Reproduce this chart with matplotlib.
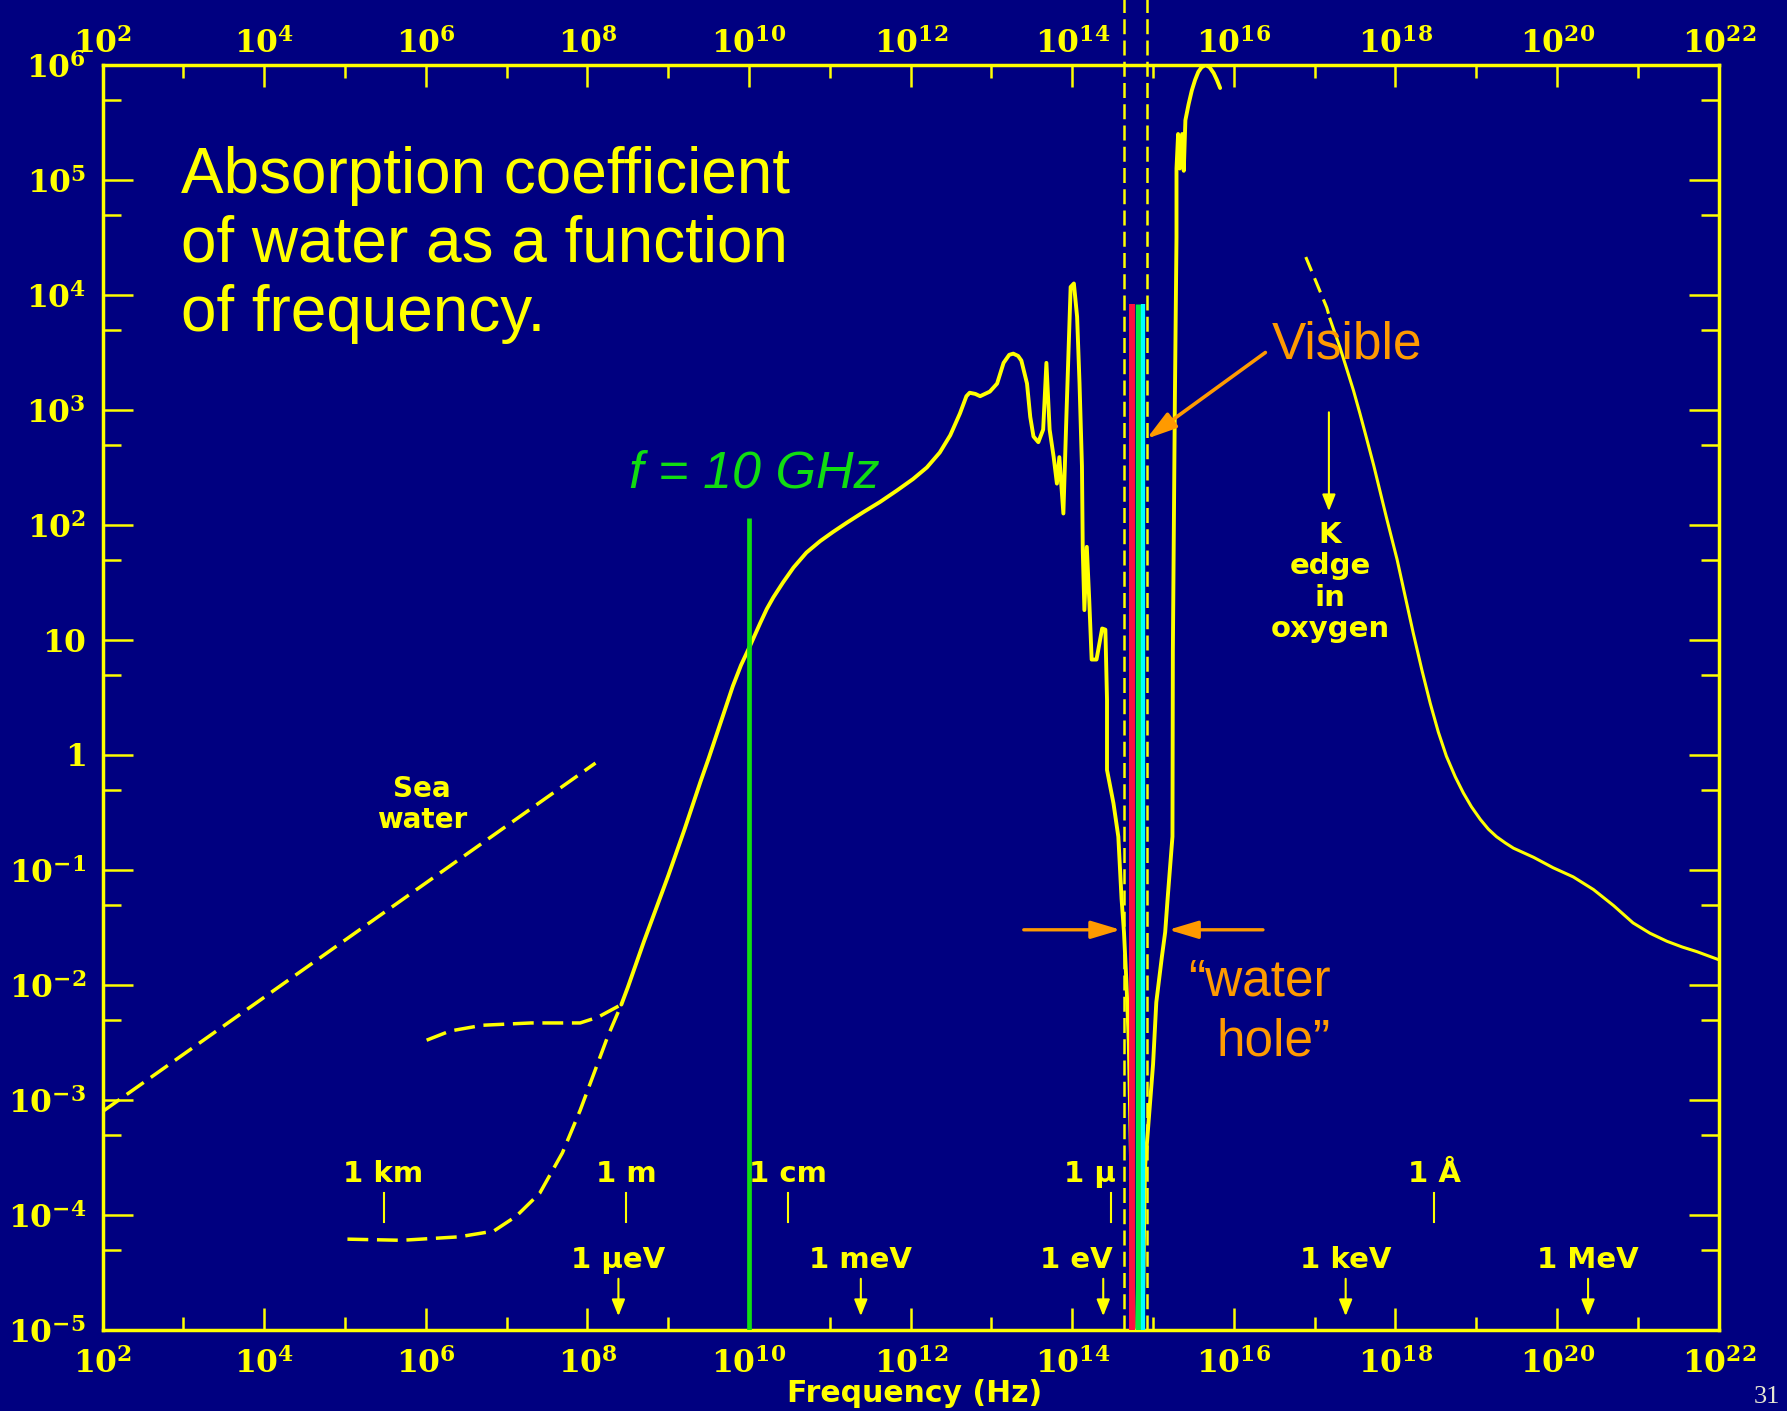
import numpy as np
import matplotlib.pyplot as plt
from matplotlib.ticker import NullFormatter, NullLocator

plt.rcParams['mathtext.fontset'] = 'dejavuserif'

navy = '#000080'
yellow = '#ffff00'
green = '#11dd11'
orange = '#ff9a00'

# ---- data (log10 of frequency in Hz, log10 of absorption in 1/cm) ----
water_logf = [8.42, 8.50, 8.60, 8.70, 8.80, 8.90, 9.00, 9.10, 9.20, 9.30, 9.40,
              9.50, 9.60, 9.70, 9.80, 9.90, 10.00, 10.07, 10.14, 10.22, 10.30,
              10.42, 10.55, 10.71, 10.88, 11.04, 11.21, 11.41, 11.62, 11.83, 12.03,
              12.20, 12.36, 12.49, 12.61, 12.69, 12.73, 12.80, 12.86, 12.98, 13.07,
              13.15, 13.22, 13.27, 13.33, 13.37, 13.44, 13.48, 13.52, 13.58, 13.64,
              13.68, 13.72, 13.77, 13.81, 13.84, 13.89, 13.93, 13.98, 14.02, 14.06,
              14.09, 14.12, 14.13, 14.15, 14.18, 14.21, 14.24, 14.30, 14.37, 14.41,
              14.43, 14.43, 14.51, 14.57, 14.61, 14.64, 14.67, 14.70, 14.74, 14.77,
              14.86, 14.90, 14.94, 15.00, 15.04, 15.11, 15.15, 15.18, 15.24, 15.245,
              15.27, 15.29, 15.29, 15.31, 15.33, 15.36, 15.38, 15.40, 15.44, 15.48,
              15.52, 15.56, 15.60, 15.65, 15.70, 15.75, 15.79, 15.83]
water_loga = [-2.17, -2.02, -1.82, -1.62, -1.43, -1.24, -1.05, -0.85, -0.65, -0.44, -0.23,
              -0.03, 0.18, 0.39, 0.60, 0.78, 0.93, 1.04, 1.15, 1.27, 1.37,
              1.50, 1.63, 1.76, 1.86, 1.94, 2.02, 2.11, 2.20, 2.30, 2.40,
              2.50, 2.63, 2.78, 2.97, 3.12, 3.15, 3.14, 3.12, 3.16, 3.23,
              3.41, 3.48, 3.49, 3.47, 3.43, 3.23, 2.94, 2.77, 2.72, 2.83,
              3.41, 2.83, 2.59, 2.36, 2.59, 2.10, 3.00, 4.07, 4.10, 3.81,
              3.23, 2.51, 1.78, 1.26, 1.81, 1.35, 0.83, 0.83, 1.10, 1.09,
              0.48, -0.13, -0.42, -0.71, -1.25, -1.54, -1.97, -2.51, -4.0, -5.5,
              -5.5, -3.59, -3.23, -2.69, -2.15, -1.75, -1.54, -1.25, -0.71, 0.90,
              3.10, 4.50, 5.10, 5.40, 5.10, 5.40, 5.08, 5.52, 5.66, 5.78,
              5.87, 5.94, 5.98, 6.00, 5.98, 5.93, 5.87, 5.80]

pure_logf = [5.03, 5.70, 6.41, 6.84, 7.12, 7.41, 7.69, 7.91, 8.08, 8.25, 8.42]
pure_loga = [-4.21, -4.22, -4.19, -4.14, -4.01, -3.81, -3.46, -3.09, -2.77, -2.45, -2.17]

plateau_logf = [6.01, 6.30, 6.70, 7.30, 7.91, 8.13, 8.42]
plateau_loga = [-2.48, -2.40, -2.35, -2.33, -2.33, -2.28, -2.17]

sea_logf = [2.0, 8.1]
sea_loga = [-3.10, -0.07]

xray_dash_logf = [16.89, 17.02, 17.15, 17.19]
xray_dash_loga = [4.33, 4.11, 3.89, 3.79]
xray_logf = [17.19, 17.23, 17.31, 17.40, 17.48, 17.56, 17.64, 17.73, 17.81, 17.89,
             18.02, 18.12, 18.22, 18.33, 18.43, 18.53, 18.63, 18.74, 18.84, 18.94,
             19.05, 19.15, 19.25, 19.36, 19.46, 19.71, 19.95, 20.20, 20.45, 20.70,
             20.94, 21.15, 21.36, 21.55, 21.73, 22.0]
xray_loga = [3.79, 3.71, 3.55, 3.35, 3.17, 2.97, 2.76, 2.52, 2.29, 2.06,
             1.70, 1.38, 1.06, 0.73, 0.45, 0.20, -0.01, -0.19, -0.33, -0.45,
             -0.56, -0.645, -0.71, -0.765, -0.81, -0.89, -0.98, -1.06, -1.17, -1.31,
             -1.46, -1.55, -1.62, -1.67, -1.71, -1.78]

f_marker_hz = 1e10
f_marker_top = 115.0

visible_edges_hz = [4.38e14, 8.51e14]
band_hz = [5.55e14, 6.52e14, 7.48e14]
band_colors = ['#ff1040', '#00ee44', '#00ffff']
band_widths = [4.3, 3.9, 3.1]
band_top = 8.3e3

k_edge_hz = 1.5e17
k_edge_arrow = [955.0, 132.0]

wavelength_labels = ['1 km', '1 m', '1 cm', '1 μ', '1 Å']
wavelength_m = [1e3, 1.0, 1e-2, 1e-6, 1e-10]
energy_labels = ['1 μeV', '1 meV', '1 eV', '1 keV', '1 MeV']
energy_ev = [1e-6, 1e-3, 1.0, 1e3, 1e6]

x_major = [2, 4, 6, 8, 10, 12, 14, 16, 18, 20, 22]
x_minor = [3, 5, 7, 9, 11, 13, 15, 17, 19, 21]
y_major = [-5, -4, -3, -2, -1, 0, 1, 2, 3, 4, 5, 6]

title_lines = ['Absorption coefficient', 'of water as a function', 'of frequency.']

c_light = 2.998e8
ev_to_hz = 2.418e14

W, H = 1787, 1411


def px(x, y):
    return x / W, 1 - y / H


def lg(v):
    return 10.0 ** np.array(v)


fig = plt.figure(figsize=(W / 100, H / 100), dpi=100, facecolor=navy)
ax = fig.add_axes([102.6 / W, 81 / H, (1718.7 - 102.6) / W, (1330 - 65) / H])
ax.set_facecolor(navy)
ax.set_xscale('log')
ax.set_yscale('log')
ax.set_xlim(1e2, 1e22)
ax.set_ylim(1e-5, 1e6)
for s in ax.spines.values():
    s.set_color(yellow)
    s.set_linewidth(2.5)

def exp_label(e):
    if e == 0:
        return r'$\mathbf{1}$'
    if e == 1:
        return r'$\mathbf{10}$'
    return r'$\mathbf{10^{%d}}$' % e

ax.set_xticks(lg(x_major), [exp_label(e) for e in x_major])
ax.set_xticks(lg(x_minor), minor=True)
ax.xaxis.set_minor_formatter(NullFormatter())
ax.set_yticks(lg(y_major), [exp_label(e) for e in y_major])
ax.set_yticks(5 * lg(y_major[:-1]), minor=True)
ax.yaxis.set_minor_formatter(NullFormatter())

ax.tick_params(axis='x', which='major', direction='in', length=15.8, width=1.8,
               color=yellow, top=True, bottom=True, labelsize=22.5,
               labelcolor=yellow, pad=12)
ax.tick_params(axis='x', which='minor', direction='in', length=9.5, width=1.8,
               color=yellow, top=True, bottom=True)
ax.tick_params(axis='y', which='major', direction='in', length=21.5, width=1.8,
               color=yellow, left=True, right=True, labelsize=22.5,
               labelcolor=yellow, pad=12)
ax.tick_params(axis='y', which='minor', direction='in', length=13, width=1.8,
               color=yellow, left=True, right=True)

top = ax.secondary_xaxis('top')
top.set_xticks(lg(x_major), [exp_label(e) for e in x_major])
top.xaxis.set_minor_locator(NullLocator())
top.tick_params(which='both', length=0, pad=4, labelsize=22.5, labelcolor=yellow)
top.spines['top'].set_visible(False)

# curves
ax.plot(lg(sea_logf), lg(sea_loga), color=yellow, lw=2.5, ls=(0, (6, 2.5)))
ax.plot(lg(pure_logf), lg(pure_loga), color=yellow, lw=2.5, ls=(0, (6, 2.5)))
ax.plot(lg(plateau_logf), lg(plateau_loga), color=yellow, lw=2.5, ls=(0, (6, 2.5)))
ax.plot(lg(water_logf), lg(water_loga), color=yellow, lw=2.8,
        solid_joinstyle='round', solid_capstyle='round')
ax.plot(lg(xray_dash_logf), lg(xray_dash_loga), color=yellow, lw=2.2, ls=(0, (5, 2.5)))
ax.plot(lg(xray_logf), lg(xray_loga), color=yellow, lw=2.2, solid_joinstyle='round')

# visible band
ax.vlines(visible_edges_hz, 1e-5, 10 ** 6.6, colors=yellow, lw=1.8,
          linestyles=[(0, (6, 2.5))], clip_on=False, zorder=4)
ax.vlines(band_hz, 1e-5, band_top, colors=band_colors, lw=band_widths, zorder=5)

# 10 GHz marker
ax.vlines([f_marker_hz], 1e-5, f_marker_top, colors=green, lw=3.4, zorder=5)
fig.text(*px(754, 487), 'f = 10 GHz', color=green, fontsize=37.5, style='italic',
         family='Liberation Sans', ha='center', va='baseline')

# wavelength and energy markers
xt = ax.get_xaxis_transform()
for lab, lam in zip(wavelength_labels, wavelength_m):
    f = c_light / lam
    ax.plot([f, f], [0.085, 0.108], transform=xt, color=yellow, lw=1.5)
    if lab == '1 μ':
        ax.annotate(lab, (f, 0.123), xycoords=xt, xytext=(4, 0), textcoords='offset points',
                    ha='right', va='center', color=yellow, fontsize=21, fontweight='bold')
    else:
        ax.text(f, 0.123, lab, transform=xt, ha='center', va='center', color=yellow,
                fontsize=21, fontweight='bold')
for lab, e in zip(energy_labels, energy_ev):
    f = e * ev_to_hz
    ax.annotate('', xy=(f, 0.011), xycoords=xt, xytext=(f, 0.0405), textcoords=xt,
                arrowprops=dict(arrowstyle='-|>,head_length=0.5,head_width=0.2',
                                color=yellow, lw=1.5, mutation_scale=20,
                                shrinkA=0, shrinkB=0))
    if lab == '1 eV':
        ax.annotate(lab, (f, 0.0553), xycoords=xt, xytext=(7, 0), textcoords='offset points',
                    ha='right', va='center', color=yellow, fontsize=21, fontweight='bold')
    else:
        ax.text(f, 0.0553, lab, transform=xt, ha='center', va='center', color=yellow,
                fontsize=21, fontweight='bold')

# K edge
ax.annotate('', xy=(k_edge_hz, k_edge_arrow[1]), xytext=(k_edge_hz, k_edge_arrow[0]),
            arrowprops=dict(arrowstyle='-|>,head_length=0.5,head_width=0.2',
                            color=yellow, lw=1.5, mutation_scale=20, shrinkA=0, shrinkB=0))
fig.text(*px(1330, 582), 'K\nedge\nin\noxygen', color=yellow, fontsize=21,
         fontweight='bold', ha='center', va='center', linespacing=1.15)
fig.text(*px(421.7, 804.6), 'Sea\nwater', color=yellow, fontsize=20,
         fontweight='bold', ha='center', va='center', linespacing=1.15)

# orange annotations
head = '-|>,head_length=0.4,head_width=0.12'
ax.annotate('', xy=(10 ** 14.92, 10 ** 2.75), xytext=(10 ** 16.39, 10 ** 3.50),
            arrowprops=dict(arrowstyle=head, color=orange, lw=2.6, mutation_scale=45,
                            shrinkA=0, shrinkB=0), zorder=6)
ax.annotate('', xy=(10 ** 14.60, 10 ** -1.52), xytext=(10 ** 13.40, 10 ** -1.52),
            arrowprops=dict(arrowstyle=head, color=orange, lw=2.4, mutation_scale=45,
                            shrinkA=0, shrinkB=0), zorder=6)
ax.annotate('', xy=(10 ** 15.19, 10 ** -1.52), xytext=(10 ** 16.36, 10 ** -1.52),
            arrowprops=dict(arrowstyle=head, color=orange, lw=2.4, mutation_scale=45,
                            shrinkA=0, shrinkB=0), zorder=6)
fig.text(*px(1271.7, 358.4), 'Visible', color=orange, fontsize=37,
         family='Liberation Sans', va='baseline', ha='left')
fig.text(*px(1331, 996), '\u201cwater', color=orange, fontsize=37,
         family='Liberation Sans', va='baseline', ha='right')
fig.text(*px(1331, 1055), 'hole\u201d', color=orange, fontsize=37,
         family='Liberation Sans', va='baseline', ha='right')

# title
for i, line in enumerate(title_lines):
    fig.text(*px(181, 193 + 69 * i), line, color=yellow, fontsize=46,
             family='Liberation Sans', va='baseline', ha='left')

fig.text(*px(914.5, 1401.7), 'Frequency (Hz)', color=yellow, fontsize=21.5,
         fontweight='bold', ha='center', va='baseline')
fig.text(*px(1767, 1408), '31', color='#e6e6d0', fontsize=19, family='Liberation Serif',
         ha='center', va='bottom')

fig.savefig('out.png', dpi=100, facecolor=navy)
